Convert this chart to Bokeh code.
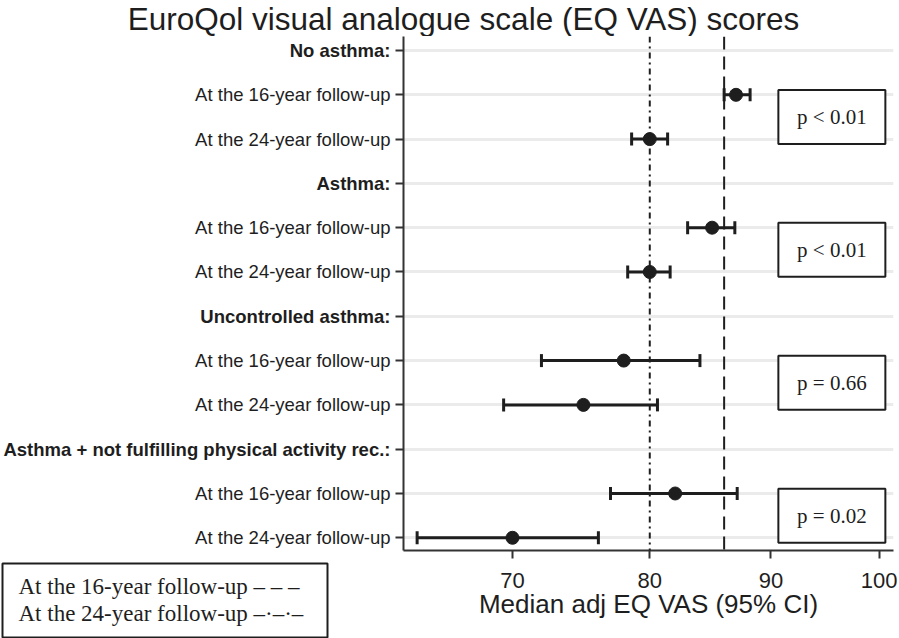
from bokeh.plotting import figure
from bokeh.layouts import row, column
from bokeh.models import (ColumnDataSource, Range1d, FixedTicker, Span, Whisker, TeeHead,
                          NumeralTickFormatter)
from bokeh.core.properties import value
from bokeh.embed import file_html
from bokeh.resources import INLINE

# ---------------- data ----------------
groups = ["No asthma:", "Asthma:", "Uncontrolled asthma:",
          "Asthma + not fulfilling physical activity rec.:"]
timepoints = ["At the 16-year follow-up", "At the 24-year follow-up"]
median_16 = [87.0, 85.0, 78.0, 82.0]
lo_16 = [86.0, 83.0, 72.0, 77.0]
hi_16 = [88.2, 86.9, 84.0, 87.1]
median_24 = [80.0, 80.0, 75.0, 70.0]
lo_24 = [78.6, 78.3, 69.4, 63.8]
hi_24 = [81.4, 81.6, 80.6, 76.1]
p_values = ["p < 0.01", "p < 0.01", "p = 0.66", "p = 0.02"]
ref_16 = 86.0
ref_24 = 80.0
x_ticks = [70, 80, 90, 100]
title_text = "EuroQol visual analogue scale (EQ VAS) scores"
x_label = "Median adj EQ VAS (95% CI)"
legend_lines = ["At the 16-year follow-up \u2013 \u2013 \u2013",
                "At the 24-year follow-up \u2013\u00b7\u2013\u00b7\u2013"]

# ------------- derived tables -------------
row_labels, row_style, row_y = [], [], []
pt_x, pt_lo, pt_hi, pt_y = [], [], [], []
for g, name in enumerate(groups):
    base = 3 * g
    row_labels += [name] + timepoints
    row_style += ["bold", "normal", "normal"]
    row_y += [base, base + 1, base + 2]
    pt_x += [median_16[g], median_24[g]]
    pt_lo += [lo_16[g], lo_24[g]]
    pt_hi += [hi_16[g], hi_24[g]]
    pt_y += [base + 1, base + 2]

pts = ColumnDataSource(dict(x=pt_x, lo=pt_lo, hi=pt_hi, y=pt_y))
pv = ColumnDataSource(dict(x=[95.5] * len(p_values),
                           y=[3 * g + 1.5 for g in range(len(p_values))], t=p_values))

INK = "#1e1e1e"
SANS = "Liberation Sans"
SERIF = "Liberation Serif"
W, H = 899, 638
TITLE_H = 36          # height of the title strip
LAB_W = 391           # width of the row-label column
FRAME_H = 514         # height of plotting frame
BOT = 88              # space below frame

y_range = Range1d(11.287, -0.316)


def bare(fig):
    fig.outline_line_color = None
    fig.xaxis.visible = False
    fig.yaxis.visible = False
    fig.grid.visible = False
    fig.background_fill_color = "white"
    fig.border_fill_color = "white"
    return fig


# ---- title strip ----
tfig = bare(figure(width=W, height=TITLE_H, output_backend="svg", toolbar_location=None,
                   x_range=Range1d(0, W), y_range=Range1d(TITLE_H, 0),
                   min_border=0))
tfig.text(x=[463], y=[TITLE_H / 2], text=[title_text], text_align="center",
          text_baseline="middle", text_font=value(SANS), text_font_size="31.5px",
          text_color=INK)

# ---- row labels ----
lfig = bare(figure(width=LAB_W, height=FRAME_H, output_backend="svg", toolbar_location=None,
                   x_range=Range1d(0, LAB_W), y_range=y_range, min_border=0))
lfig.text("x", "y", text="t", source=ColumnDataSource(dict(x=[LAB_W - 1] * len(row_y),
                                                            y=row_y, t=row_labels,
                                                            s=row_style)),
          text_align="right", text_baseline="middle", text_font=value(SANS),
          text_font_size="18.5px", text_font_style="s", text_color=INK)

# ---- legend box ----
gfig = bare(figure(width=LAB_W, height=BOT, output_backend="svg", toolbar_location=None,
                   x_range=Range1d(0, LAB_W), y_range=Range1d(BOT, 0), min_border=0))
gfig.quad(left=[2], right=[327], top=[13], bottom=[87], fill_color="white",
          line_color=INK, line_width=2)
gfig.text(x=[18, 18], y=[36, 63], text=legend_lines, text_align="left",
          text_baseline="middle", text_font=value(SERIF), text_font_size="23px",
          text_color=INK)

# ---- main plot ----
p = figure(width=W - LAB_W, height=FRAME_H + BOT, output_backend="svg",
           toolbar_location=None, x_axis_type="log", x_range=Range1d(62.96, 101.4),
           y_range=y_range, min_border_left=12, min_border_right=6,
           min_border_top=0, min_border_bottom=BOT)
p.outline_line_color = None
p.background_fill_color = "white"
p.border_fill_color = "white"

p.xaxis.ticker = FixedTicker(ticks=x_ticks, minor_ticks=[])
p.xaxis.formatter = NumeralTickFormatter(format="0")
p.xaxis.major_label_text_font = SANS
p.xaxis.major_label_text_font_size = "22px"
p.xaxis.major_label_text_color = INK
p.xaxis.major_label_standoff = 14
p.xaxis.axis_label = x_label
p.xaxis.axis_label_text_font = SANS
p.xaxis.axis_label_text_font_size = "26px"
p.xaxis.axis_label_text_font_style = "normal"
p.xaxis.axis_label_text_color = INK
p.xaxis.axis_label_standoff = -2
p.yaxis.ticker = FixedTicker(ticks=row_y, minor_ticks=[])
p.yaxis.major_label_overrides = {y: "" for y in row_y}
p.yaxis.major_label_standoff = 0
for ax in (p.xaxis, p.yaxis):
    ax.axis_line_color = "#333333"
    ax.axis_line_width = 2
    ax.major_tick_line_color = "#333333"
    ax.major_tick_line_width = 2
    ax.major_tick_out = 8
    ax.major_tick_in = 0
    ax.minor_tick_line_color = None
p.xgrid.grid_line_color = None
p.ygrid.ticker = FixedTicker(ticks=row_y)
p.ygrid.grid_line_color = "#ebebeb"
p.ygrid.grid_line_width = 3

p.add_layout(Span(location=ref_24, dimension="height", line_color=INK,
                  line_width=2, line_dash="6 4 2 4"))
p.add_layout(Span(location=ref_16, dimension="height", line_color=INK,
                  line_width=2, line_dash="13 7"))

p.add_layout(Whisker(source=pts, base="y", lower="lo", upper="hi", dimension="width",
                     line_color=INK, line_width=3,
                     lower_head=TeeHead(size=13, line_color=INK, line_width=3),
                     upper_head=TeeHead(size=13, line_color=INK, line_width=3)))
p.scatter("x", "y", source=pts, size=13, color=INK)

p.rect("x", "y", source=pv, width=107, height=54, width_units="screen",
       height_units="screen", fill_color="white", line_color=INK, line_width=2)
p.text("x", "y", text="t", source=pv, text_align="center", text_baseline="middle",
       text_font=value(SERIF), text_font_size="21px", text_color=INK)

layout = column(tfig, row(column(lfig, gfig), p))
open("out.html", "w").write(file_html(layout, INLINE))
